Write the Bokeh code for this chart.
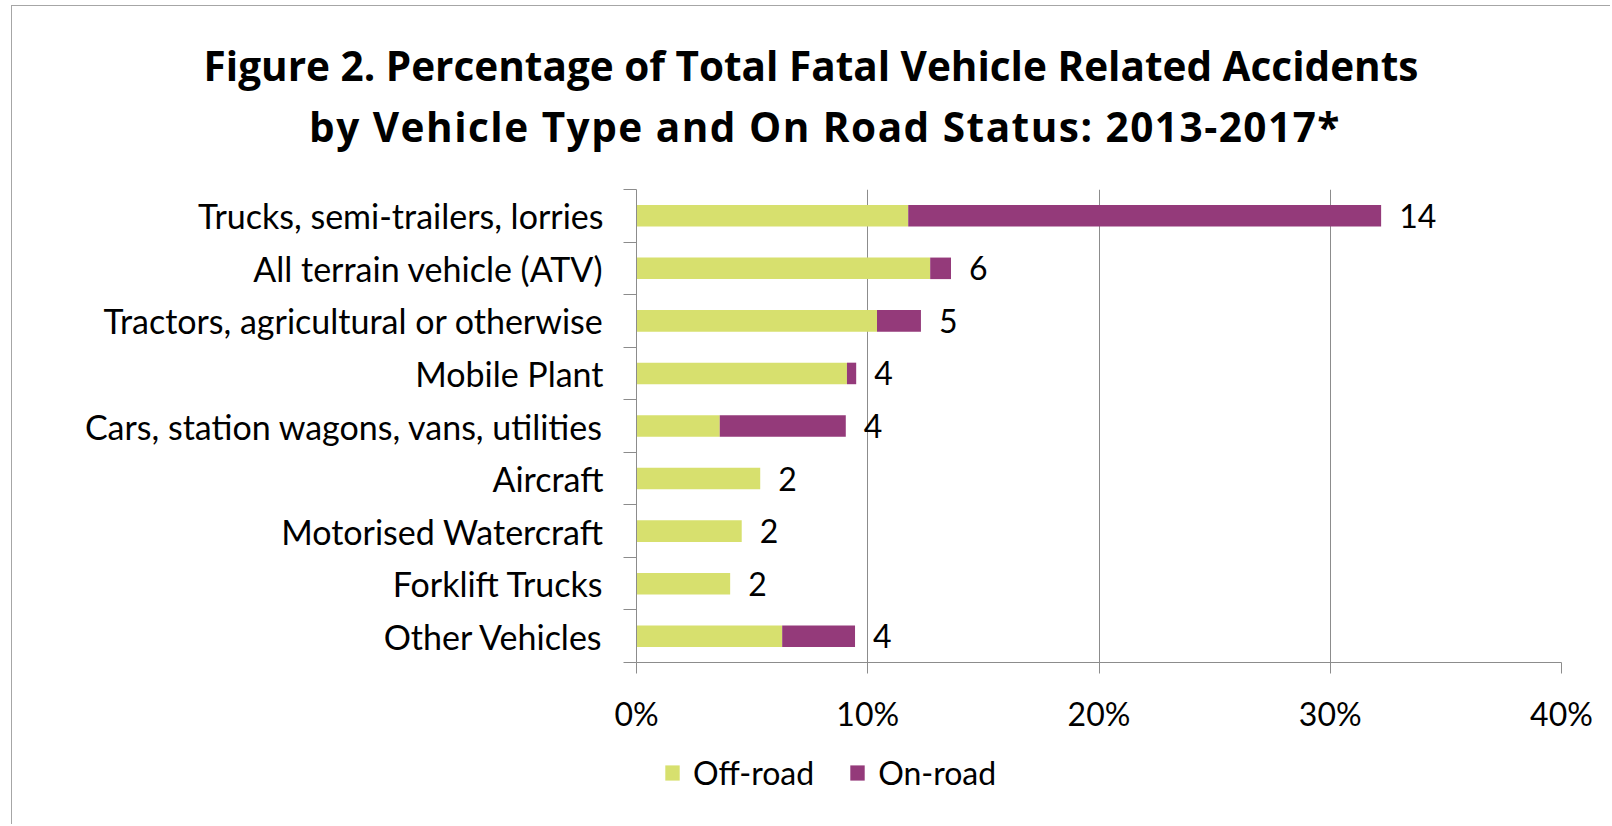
from bokeh.plotting import figure
from bokeh.layouts import column
from bokeh.models import (Range1d, LinearAxis, FixedTicker, Div,
                          PrintfTickFormatter, Legend, LegendItem, ColumnDataSource, Grid)
from bokeh.core.properties import value
from bokeh.embed import file_html
from bokeh.resources import INLINE

categories = ["Trucks, semi-trailers, lorries", "All terrain vehicle (ATV)",
              "Tractors, agricultural or otherwise", "Mobile Plant",
              "Cars, station wagons, vans, utilities", "Aircraft",
              "Motorised Watercraft", "Forklift Trucks", "Other Vehicles"]
off_road = [11.75, 12.7, 10.4, 9.1, 3.6, 5.35, 4.55, 4.05, 6.3]
on_road = [20.45, 0.9, 1.9, 0.4, 5.45, 0.0, 0.0, 0.0, 3.15]
counts = ["14", "6", "5", "4", "4", "2", "2", "2", "4"]
x_ticks = [0, 10, 20, 30, 40]
series_names = ["Off-road", "On-road"]
colors = ["#D7E06E", "#943A7A"]
title_lines = ["Figure 2. Percentage of Total Fatal Vehicle Related Accidents",
               "by Vehicle Type and On Road Status: 2013-2017*"]

FONT = "Lato"
GRAY = "#8C8C8C"
W = 1598


def blank(fig):
    fig.outline_line_color = None
    fig.xgrid.visible = False
    fig.ygrid.visible = False
    return fig


# ---------------- title strip ----------------
title_html = (
    '<div style="padding-left:0px">' + title_lines[0] + '</div>'
    '<div style="padding-left:28px; letter-spacing:1.5px">' + title_lines[1] + '</div>'
)
pt = Div(text=title_html, width=W, height=178, margin=0,
         styles={"font-family": "'Open Sans', sans-serif", "font-weight": "bold",
                 "font-size": "40.5px", "line-height": "61px", "text-align": "center",
                 "color": "#000000", "padding-top": "29px", "box-sizing": "border-box",
                 "white-space": "nowrap"})

# ---------------- main chart ----------------
n = len(categories)
ypos = [n - i - 0.5 for i in range(n)]

src = ColumnDataSource(dict(
    y=ypos, cat=categories, off=off_road, on=on_road,
    total=[a + b for a, b in zip(off_road, on_road)], count=counts))

p = blank(figure(width=W, height=558,
                 y_range=Range1d(0, n), x_range=Range1d(0, 40),
                 output_backend="svg", toolbar_location=None,
                 x_axis_location=None, y_axis_location=None,
                 min_border_left=624, min_border_right=49,
                 min_border_top=5, min_border_bottom=80))

grid = Grid(dimension=0, ticker=FixedTicker(ticks=x_ticks[1:]),
            grid_line_color=GRAY, grid_line_width=1)
p.add_layout(grid)

bars = p.hbar_stack(["off", "on"], y="y", height=0.41, color=colors,
                    line_color=None, source=src)

p.text(x="total", y="y", text="count", x_offset=18, text_align="left",
       text_baseline="middle", text_font=value(FONT), text_font_size="32px",
       text_color="#000000", source=src)

bax = LinearAxis(ticker=FixedTicker(ticks=list(range(n + 1))),
                 major_label_overrides={i: "" for i in range(n + 1)},
                 major_label_text_font_size="0px", major_label_standoff=0,
                 major_tick_out=13, major_tick_in=0, minor_tick_out=0, minor_tick_in=0,
                 axis_line_color=GRAY, major_tick_line_color=GRAY)
p.add_layout(bax, "left")

cax = LinearAxis(ticker=FixedTicker(ticks=ypos),
                 major_label_overrides={y: c for y, c in zip(ypos, categories)},
                 major_tick_out=0, major_tick_in=0, minor_tick_out=0, minor_tick_in=0,
                 axis_line_color=None, major_tick_line_color=None,
                 major_label_text_font=FONT, major_label_text_font_size="34px",
                 major_label_text_color="#000000", major_label_standoff=20)
p.add_layout(cax, "left")

xax = LinearAxis(ticker=FixedTicker(ticks=x_ticks),
                 formatter=PrintfTickFormatter(format="%d%%"),
                 major_tick_out=11, major_tick_in=0, minor_tick_out=0, minor_tick_in=0,
                 axis_line_color=GRAY, major_tick_line_color=GRAY,
                 major_label_text_font=FONT, major_label_text_font_size="32px",
                 major_label_text_color="#000000", major_label_standoff=20)
p.add_layout(xax, "below")

# ---------------- legend strip ----------------
LH = 82
pl = blank(figure(width=W, height=LH, x_range=Range1d(0, 40), y_range=Range1d(100, 101),
                  output_backend="svg", toolbar_location=None,
                  x_axis_location=None, y_axis_location=None, min_border=0))
# same series drawn outside the strip's visible range, used only for the legend keys
lr = pl.hbar_stack(["off", "on"], y="y", height=0.41, color=colors,
                   line_color=None, source=src)
legend = Legend(items=[LegendItem(label=series_names[0], renderers=[lr[0]]),
                       LegendItem(label=series_names[1], renderers=[lr[1]])],
                orientation="horizontal", location=(27, 32),
                label_text_font=FONT, label_text_font_size="32px",
                label_text_color="#000000",
                glyph_width=18, glyph_height=19, label_standoff=12, spacing=34,
                border_line_color=None, background_fill_alpha=0, padding=0, margin=0)
pl.add_layout(legend, "center")

layout = column(pt, p, pl, spacing=0)
layout.styles = {"border-left": "1px solid #A6A6A6", "border-top": "1px solid #A6A6A6",
                 "margin-left": "11px", "margin-top": "5px"}

open("out.html", "w").write(file_html(layout, INLINE))
